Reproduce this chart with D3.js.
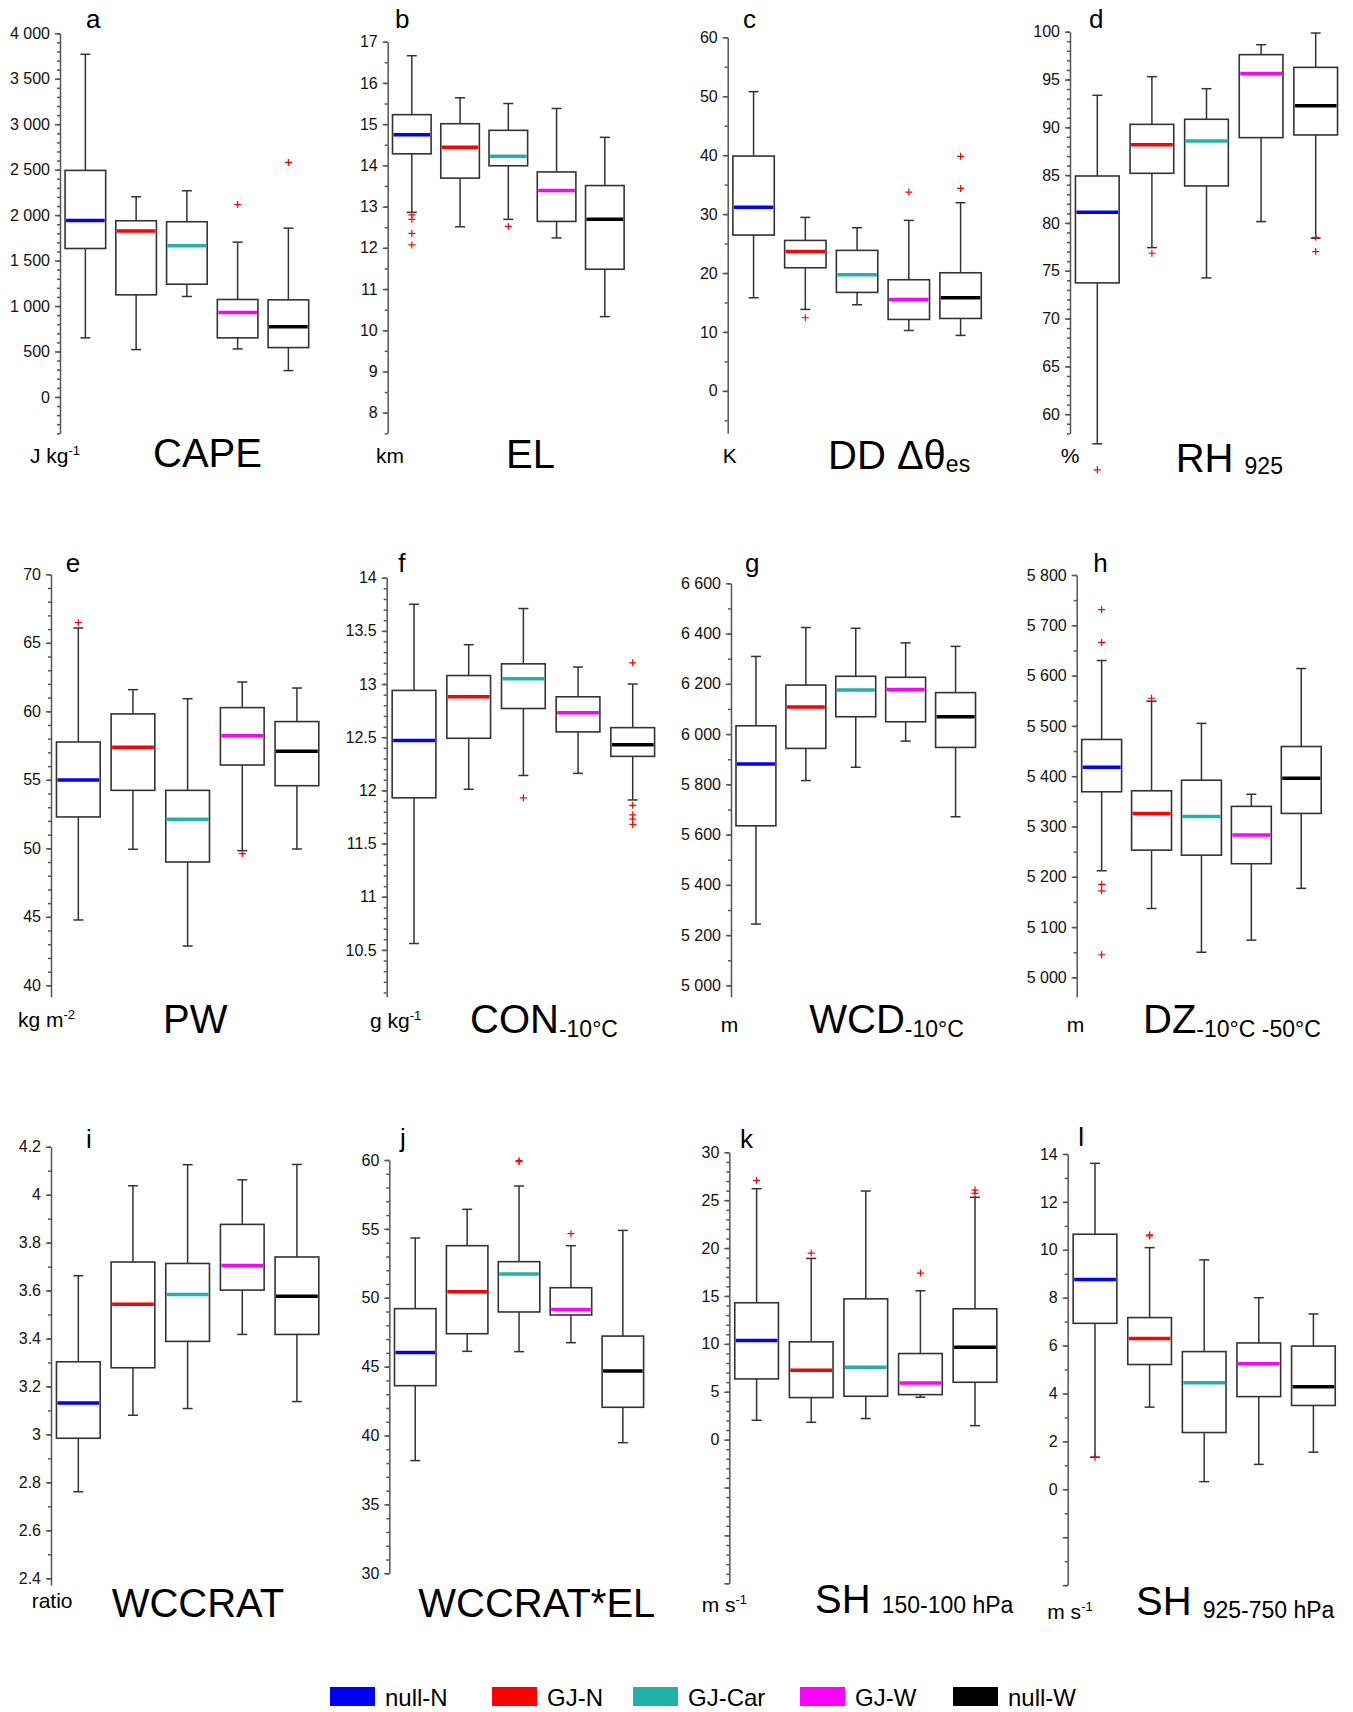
<!DOCTYPE html>
<html>
<head>
<meta charset="utf-8">
<title>Box plots</title>
<style>
body { margin: 0; background: #fff; }
svg { display: block; font-family: "Liberation Sans", Arial, sans-serif; }
.tick text { font-size: 16px; fill: #111; }
.domain, .tick line { stroke: #555; stroke-width: 1.5; }
</style>
</head>
<body>
<div id="chart"></div>
<script src="https://d3js.org/d3.v7.min.js"></script>
<script>
const groups = ["null-N", "GJ-N", "GJ-Car", "GJ-W", "null-W"]
const colors = ["#0000ff", "#ff0000", "#20b2aa", "#ff00ff", "#000000"]

// one row per group: [lower whisker, Q1, median, Q3, upper whisker]
const cape = [[650, 1633, 1941, 2492, 3769], [521, 1123, 1824, 1938, 2202], [1105, 1240, 1662, 1927, 2268], [528, 650, 928, 1072, 1703], [290, 543, 771, 1068, 1857]]
const capeOut = [[], [], [], [2117], [2580]]
const el = [[12.86, 14.28, 14.74, 15.23, 16.66], [12.51, 13.69, 14.44, 15.01, 15.64], [12.69, 13.99, 14.22, 14.85, 15.50], [12.24, 12.64, 13.39, 13.84, 15.38], [10.33, 11.48, 12.69, 13.51, 14.68]]
const elOut = [[12.80, 12.69, 12.35, 12.07], [], [12.52], [], []]
const dd = [[15.8, 26.44, 31.14, 39.85, 50.78], [13.82, 20.89, 23.67, 25.53, 29.44], [14.61, 16.71, 19.71, 23.84, 27.69], [10.25, 12.12, 15.52, 18.86, 28.93], [9.41, 12.29, 15.80, 20.04, 31.93]]
const ddOut = [[], [12.41], [], [33.74], [39.8, 34.36]]
const rh = [[56.9, 73.73, 81.11, 84.91, 93.35], [77.42, 85.19, 88.19, 90.31, 95.30], [74.25, 83.87, 88.57, 90.84, 94.04], [80.14, 88.92, 95.64, 97.60, 98.64], [78.4, 89.20, 92.26, 96.27, 99.86]]
const rhOut = [[54.18], [76.83], [], [], [78.5, 77.0]]
const pw = [[44.77, 52.29, 54.99, 57.76, 66.08], [49.93, 54.23, 57.37, 59.81, 61.58], [42.87, 49.00, 52.12, 54.23, 60.92], [49.83, 56.08, 58.22, 60.27, 62.14], [49.95, 54.57, 57.08, 59.25, 61.70]]
const pwOut = [[66.47], [], [], [49.61], []]
const con = [[10.56, 11.93, 12.47, 12.94, 13.75], [12.01, 12.49, 12.88, 13.08, 13.37], [12.14, 12.77, 13.05, 13.19, 13.71], [12.16, 12.55, 12.73, 12.88, 13.16], [11.91, 12.32, 12.43, 12.59, 13.00]]
const conOut = [[], [], [11.93], [], [13.20, 11.86, 11.77, 11.73, 11.68]]
const wcd = [[5244, 5635, 5881, 6033, 6309], [5815, 5943, 6108, 6195, 6424], [5868, 6069, 6175, 6230, 6421], [5972, 6049, 6177, 6226, 6363], [5671, 5947, 6069, 6165, 6349]]
const wcdOut = [[], [], [], [], []]
const dz = [[5212, 5369, 5418, 5473, 5630], [5137, 5253, 5326, 5371, 5549], [5050, 5243, 5320, 5392, 5505], [5074, 5226, 5283, 5340, 5364], [5177, 5326, 5396, 5459, 5614]]
const dzOut = [[5731, 5666, 5185, 5172, 5045], [5555], [], [], []]
const wccrat = [[2.761, 2.984, 3.131, 3.303, 3.662], [3.080, 3.278, 3.543, 3.719, 4.037], [3.108, 3.388, 3.584, 3.713, 4.125], [3.417, 3.602, 3.705, 3.876, 4.062], [3.137, 3.417, 3.576, 3.740, 4.126]]
const wccratOut = [[], [], [], [], []]
const wccratEl = [[38.18, 43.62, 46.02, 49.21, 54.34], [46.11, 47.39, 50.44, 53.78, 56.42], [46.09, 48.97, 51.73, 52.62, 58.11], [46.74, 48.75, 49.14, 50.73, 53.78], [39.48, 42.05, 44.68, 47.22, 54.89]]
const wccratElOut = [[], [], [59.88, 59.95], [54.65], []]
const sh150 = [[2.02, 6.34, 10.35, 14.29, 26.20], [1.81, 4.39, 7.25, 10.21, 18.92], [2.20, 4.53, 7.56, 14.70, 25.96], [4.43, 4.70, 5.92, 8.99, 15.54], [1.46, 5.99, 9.65, 13.66, 25.30]]
const sh150Out = [[27.07], [19.48], [], [17.39], [26.06, 25.71]]
const sh925 = [[1.34, 6.93, 8.76, 10.65, 13.61], [3.43, 5.21, 6.30, 7.17, 10.09], [0.32, 2.37, 4.45, 5.75, 9.58], [1.04, 3.87, 5.24, 6.11, 8.00], [1.55, 3.50, 4.28, 5.98, 7.32]]
const sh925Out = [[1.34], [10.58, 10.62], [], [], []]

// labelled tick values of each y axis
const capeTicks = [0, 500, 1000, 1500, 2000, 2500, 3000, 3500, 4000]
const elTicks = [8, 9, 10, 11, 12, 13, 14, 15, 16, 17]
const ddTicks = [0, 10, 20, 30, 40, 50, 60]
const rhTicks = [60, 65, 70, 75, 80, 85, 90, 95, 100]
const pwTicks = [40, 45, 50, 55, 60, 65, 70]
const conTicks = [10.5, 11, 11.5, 12, 12.5, 13, 13.5, 14]
const wcdTicks = [5000, 5200, 5400, 5600, 5800, 6000, 6200, 6400, 6600]
const dzTicks = [5000, 5100, 5200, 5300, 5400, 5500, 5600, 5700, 5800]
const wccratTicks = [2.4, 2.6, 2.8, 3, 3.2, 3.4, 3.6, 3.8, 4, 4.2]
const wccratElTicks = [30, 35, 40, 45, 50, 55, 60]
const sh150Ticks = [0, 5, 10, 15, 20, 25, 30]
const sh925Ticks = [0, 2, 4, 6, 8, 10, 12, 14]

const panels = [
    {letter: "a", data: cape, out: capeOut, ticks: capeTicks, bare: [], minor: 100, vTop: 4000, vBot: -400,
     ax: 60, yTop: 33.3, yBot: 433.3, step: 50.75, lx: 86, ly: 28,
     unit: ["J kg", "-1"], ux: 30, uy: 463, title: [["CAPE", 40, 0]], tx: 153, ty: 467},
    {letter: "b", data: el, out: elOut, ticks: elTicks, bare: [], minor: 0.5, vTop: 17, vBot: 7.5,
     ax: 387.7, yTop: 41.7, yBot: 433.3, step: 48.25, lx: 395, ly: 28,
     unit: ["km", ""], ux: 376, uy: 463, title: [["EL", 40, 0]], tx: 506, ty: 468},
    {letter: "c", data: dd, out: ddOut, ticks: ddTicks, bare: [], minor: 5, vTop: 60, vBot: -7.2,
     ax: 727.7, yTop: 37.3, yBot: 433.3, step: 51.75, lx: 743, ly: 28,
     unit: ["K", ""], ux: 722.7, uy: 463, title: [["DD Δθ", 40, 0], ["es", 23, 3]], tx: 828, ty: 469},
    {letter: "d", data: rh, out: rhOut, ticks: rhTicks, bare: [], minor: 1, vTop: 100, vBot: 58,
     ax: 1070, yTop: 31.7, yBot: 433.3, step: 54.6, lx: 1089, ly: 28,
     unit: ["%", ""], ux: 1060.7, uy: 463, title: [["RH ", 40, 0], ["925", 23, 2]], tx: 1175.7, ty: 471.5},
    {letter: "e", data: pw, out: pwOut, ticks: pwTicks, bare: [], minor: 1, vTop: 70, vBot: 39.17,
     ax: 51, yTop: 574.3, yBot: 996.7, step: 54.65, lx: 65.7, ly: 572,
     unit: ["kg m", "-2"], ux: 18, uy: 1027, title: [["PW", 40, 0]], tx: 163, ty: 1033},
    {letter: "f", data: con, out: conOut, ticks: conTicks, bare: [], minor: 0.1, vTop: 14, vBot: 10.06,
     ax: 386.7, yTop: 577.7, yBot: 996.7, step: 54.67, lx: 398.3, ly: 572,
     unit: ["g kg", "-1"], ux: 370, uy: 1028, title: [["CON", 40, 0], ["-10°C", 23, 4]], tx: 470, ty: 1033},
    {letter: "g", data: wcd, out: wcdOut, ticks: wcdTicks, bare: [], minor: 100, vTop: 6600, vBot: 4955,
     ax: 731, yTop: 583.3, yBot: 996.7, step: 49.9, lx: 745, ly: 572,
     unit: ["m", ""], ux: 720.7, uy: 1031.5, title: [["WCD", 40, 0], ["-10°C", 23, 4]], tx: 809.3, ty: 1033},
    {letter: "h", data: dz, out: dzOut, ticks: dzTicks, bare: [], minor: 50, vTop: 5800, vBot: 4961.6,
     ax: 1076.7, yTop: 575, yBot: 996.7, step: 49.9, lx: 1093.3, ly: 572,
     unit: ["m", ""], ux: 1066.7, uy: 1031.5, title: [["DZ", 40, 0], ["-10°C -50°C", 23, 4]], tx: 1143, ty: 1033},
    {letter: "i", data: wccrat, out: wccratOut, ticks: wccratTicks, bare: [], minor: 0.1, vTop: 4.2, vBot: 2.372,
     ax: 51, yTop: 1146.7, yBot: 1585, step: 54.65, lx: 86, ly: 1148,
     unit: ["ratio", ""], ux: 31.7, uy: 1608, title: [["WCCRAT", 40, 0]], tx: 111.7, ty: 1616.5},
    {letter: "j", data: wccratEl, out: wccratElOut, ticks: wccratElTicks, bare: [], minor: 1, vTop: 60, vBot: 30,
     ax: 389.3, yTop: 1160, yBot: 1573.3, step: 51.9, lx: 400, ly: 1147,
     unit: ["", ""], ux: 0, uy: 0, title: [["WCCRAT*EL", 40, 0]], tx: 418.3, ty: 1616.5},
    {letter: "k", data: sh150, out: sh150Out, ticks: sh150Ticks, bare: [-15, -10, -5], minor: 1, vTop: 30, vBot: -15,
     ax: 729.3, yTop: 1152.3, yBot: 1583.3, step: 54.6, lx: 740, ly: 1148,
     unit: ["m s", "-1"], ux: 701.7, uy: 1611.5, title: [["SH ", 40, 0], ["150-100 hPa", 23, 0]], tx: 815, ty: 1613},
    {letter: "l", data: sh925, out: sh925Out, ticks: sh925Ticks, bare: [-4, -2], minor: 1, vTop: 14, vBot: -4,
     ax: 1067.7, yTop: 1154, yBot: 1585.1, step: 54.6, lx: 1078.3, ly: 1146,
     unit: ["m s", "-1"], ux: 1047.3, uy: 1619, title: [["SH ", 40, 0], ["925-750 hPa", 23, 3]], tx: 1136, ty: 1614.5}
]

const legendX = [330, 492, 633, 800, 953]

const fmt = d3.formatLocale({decimal: ".", thousands: " ", grouping: [3], currency: ["", ""]}).format(",~g")

const svg = d3.select("#chart").append("svg")
    .attr("width", 1353)
    .attr("height", 1712)

panels.forEach(p => {
    const y = d3.scaleLinear().domain([p.vBot, p.vTop]).range([p.yBot, p.yTop])
    const x = d3.scaleBand().domain(groups)
        .range([p.ax, p.ax + 5 * p.step])
        .paddingInner(0.2)
        .paddingOuter(0.1)
    const g = svg.append("g")

    // minor ticks
    const minors = []
    for (let i = Math.ceil(p.vBot / p.minor - 1e-6); i * p.minor <= p.vTop + 1e-6; i++) minors.push(i * p.minor)
    g.append("g")
        .attr("transform", "translate(" + p.ax + ",0)")
        .call(d3.axisLeft(y).tickValues(minors).tickSize(3).tickFormat(""))
        .call(a => a.select(".domain").remove())

    // major ticks (labelled) + domain line
    g.append("g")
        .attr("transform", "translate(" + p.ax + ",0)")
        .call(d3.axisLeft(y).tickValues(p.ticks.concat(p.bare)).tickSize(5).tickSizeOuter(0).tickPadding(5)
            .tickFormat(v => p.bare.includes(v) ? "" : fmt(v)))

    // boxes
    const box = g.selectAll(".box")
        .data(p.data)
        .enter()
        .append("g")
        .attr("class", "box")
    const cx = (d, i) => x(groups[i]) + x.bandwidth() / 2
    const cap = 5

    box.append("line")
        .attr("x1", cx).attr("x2", cx)
        .attr("y1", d => y(d[4])).attr("y2", d => y(d[3]))
        .attr("stroke", "#333").attr("stroke-width", 1.5)
    box.append("line")
        .attr("x1", cx).attr("x2", cx)
        .attr("y1", d => y(d[1])).attr("y2", d => y(d[0]))
        .attr("stroke", "#333").attr("stroke-width", 1.5)
    box.append("line")
        .attr("x1", (d, i) => cx(d, i) - cap).attr("x2", (d, i) => cx(d, i) + cap)
        .attr("y1", d => y(d[4])).attr("y2", d => y(d[4]))
        .attr("stroke", "#333").attr("stroke-width", 1.5)
    box.append("line")
        .attr("x1", (d, i) => cx(d, i) - cap).attr("x2", (d, i) => cx(d, i) + cap)
        .attr("y1", d => y(d[0])).attr("y2", d => y(d[0]))
        .attr("stroke", "#333").attr("stroke-width", 1.5)
    box.append("rect")
        .attr("x", (d, i) => x(groups[i]))
        .attr("width", x.bandwidth())
        .attr("y", d => y(d[3]))
        .attr("height", d => y(d[1]) - y(d[3]))
        .attr("fill", "#fff")
        .attr("stroke", "#333")
        .attr("stroke-width", 1.6)
    box.append("line")
        .attr("x1", (d, i) => x(groups[i]) + 1).attr("x2", (d, i) => x(groups[i]) + x.bandwidth() - 1)
        .attr("y1", d => y(d[2])).attr("y2", d => y(d[2]))
        .attr("stroke", (d, i) => colors[i])
        .attr("stroke-width", 3.5)

    // outliers
    const pts = []
    p.out.forEach((vals, i) => vals.forEach(v => pts.push({i, v})))
    g.selectAll(".out")
        .data(pts)
        .enter()
        .append("path")
        .attr("class", "out")
        .attr("d", d => {
            const px = x(groups[d.i]) + x.bandwidth() / 2, py = y(d.v)
            return "M" + (px - 3.5) + "," + py + "H" + (px + 3.5) + "M" + px + "," + (py - 3.5) + "V" + (py + 3.5)
        })
        .attr("stroke", "#ff0000")
        .attr("stroke-width", 1.2)
        .attr("fill", "none")

    // panel letter
    g.append("text")
        .attr("x", p.lx).attr("y", p.ly)
        .attr("font-size", 26)
        .attr("fill", "#000")
        .text(p.letter)

    // unit
    if (p.unit[0]) {
        const u = g.append("text")
            .attr("x", p.ux).attr("y", p.uy)
            .attr("font-size", 21)
            .attr("fill", "#000")
        u.append("tspan").text(p.unit[0])
        if (p.unit[1]) u.append("tspan").attr("font-size", 13).attr("dy", -8).text(p.unit[1])
    }

    // title
    const t = g.append("text")
        .attr("x", p.tx).attr("y", p.ty)
        .attr("fill", "#000")
    let prevDy = 0
    p.title.forEach(([s, size, dy]) => {
        t.append("tspan")
            .attr("font-size", size)
            .attr("dy", dy - prevDy)
            .text(s)
        prevDy = dy
    })
})

// legend
const legend = svg.append("g")
groups.forEach((name, i) => {
    legend.append("rect")
        .attr("x", legendX[i]).attr("y", 1687)
        .attr("width", 45).attr("height", 19)
        .attr("fill", colors[i])
    legend.append("text")
        .attr("x", legendX[i] + 55).attr("y", 1706)
        .attr("font-size", 24)
        .attr("fill", "#000")
        .text(name)
})
</script>
</body>
</html>
